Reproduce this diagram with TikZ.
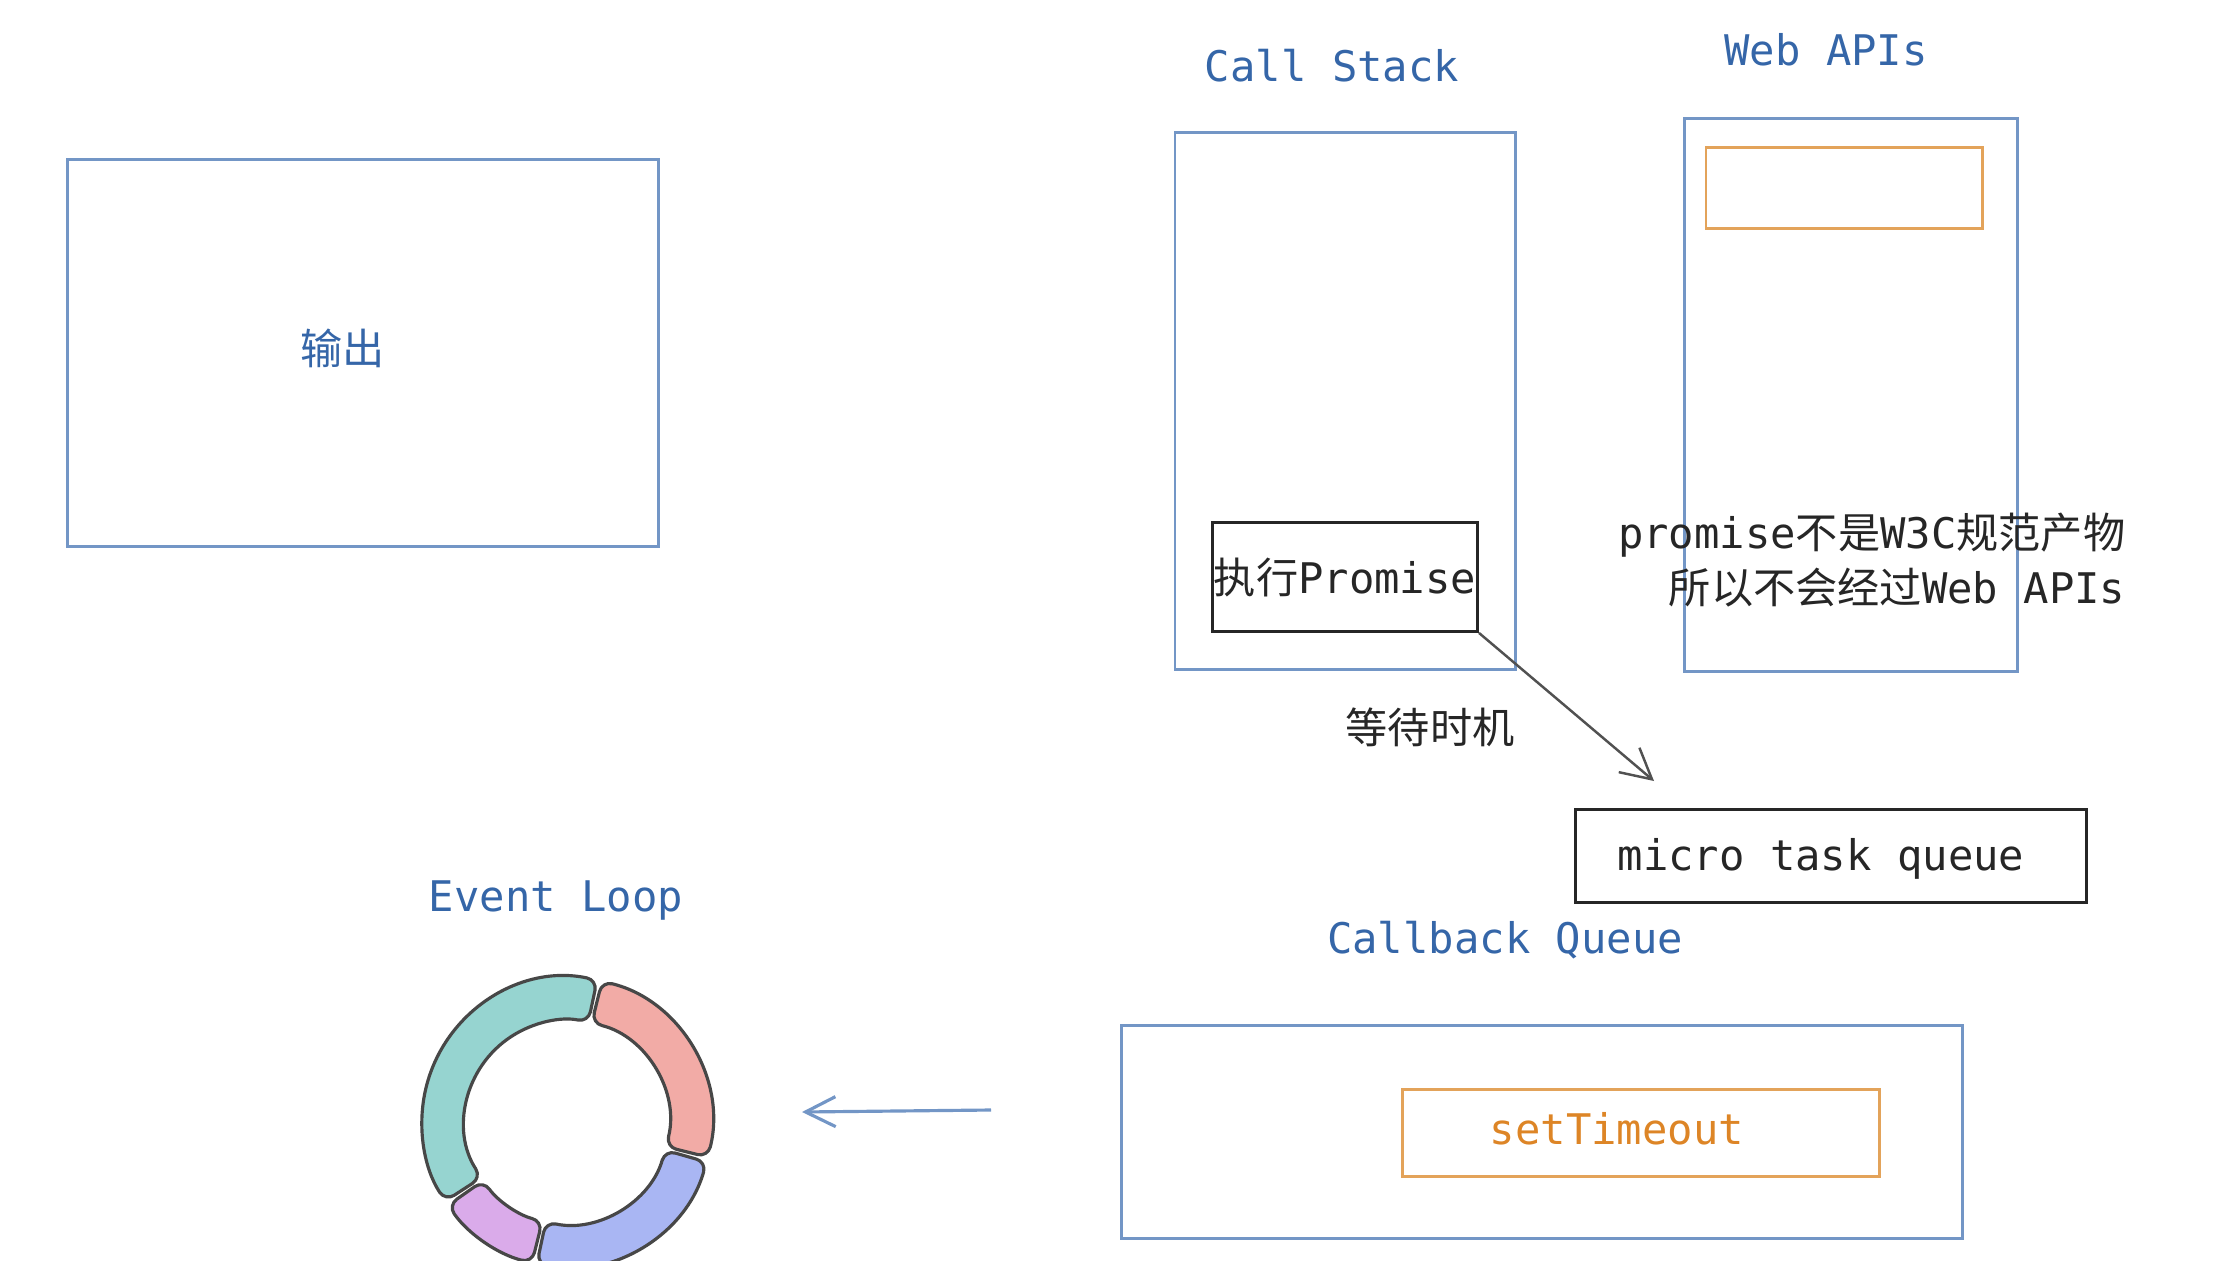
\documentclass[tikz,border=0pt]{standalone}
\usepackage{fontspec}
\usepackage{tikz}
\usetikzlibrary{arrows.meta}
\setmonofont{DejaVu Sans Mono}
\newfontfamily\cjk{Noto Sans CJK SC}
\newcommand{\zh}[1]{{\cjk #1}}
\definecolor{titleblue}{HTML}{3566A8}
\definecolor{boxblue}{HTML}{7396C6}
\definecolor{tboxorange}{HTML}{E3A35A}
\definecolor{textorange}{HTML}{DD8526}
\definecolor{inkgray}{HTML}{262626}
\definecolor{ringline}{HTML}{474747}
\definecolor{ringteal}{HTML}{96D4D0}
\definecolor{ringred}{HTML}{F2ABA6}
\definecolor{ringpurple}{HTML}{DAABEA}
\definecolor{ringblue}{HTML}{A9B6F3}

\begin{document}
\begin{tikzpicture}[x=0.01cm, y=-0.01cm,
   every node/.style={font=\ttfamily\fontsize{12pt}{15.6pt}\selectfont, inner sep=0pt},
   every label/.style={font=\ttfamily\fontsize{12pt}{15.6pt}\selectfont, inner sep=0pt},
   title/.style={text=titleblue},
   bluebox/.style={draw=boxblue, line width=0.8pt},
   orangebox/.style={draw=tboxorange, line width=0.8pt},
   blackbox/.style={draw=inkgray, line width=0.8pt},
   segment/.style={draw=ringline, line width=0.9pt, rounded corners=3pt, line join=round}]
   \clip (0,0) rectangle (2236,1260);

   % output area
   \node[bluebox, minimum width=5.9cm, minimum height=3.87cm,
      label={[text=titleblue, xshift=-0.2cm, yshift=0.05cm]center:\zh{输出}}](output) at (363,353) {};

   % call stack
   \node[title](csTitle) at (1332,66) {Call Stack};
   \node[bluebox, minimum width=3.4cm, minimum height=5.36cm](callstack) at (1345,401) {};
   \node[blackbox, minimum width=2.65cm, minimum height=1.09cm, text=inkgray](exec) at (1345,577) {\zh{执行}Promise};

   % web apis
   \node[title](webTitle) at (1826,50) {Web APIs};
   \node[bluebox, minimum width=3.33cm, minimum height=5.53cm](webapis) at (1851,395) {};
   \node[orangebox, minimum width=2.76cm, minimum height=0.81cm](webtask) at (1844,188) {};
   \node[anchor=east, align=right, text=inkgray](note) at (2126,560) {promise\zh{不是}W3C\zh{规范产物}\\\zh{所以不会经过}Web APIs};

   % micro task queue
   \node[text=inkgray](wait) at (1430,727) {\zh{等待时机}};
   \node[blackbox, minimum width=5.1cm, minimum height=0.93cm,
      label={[text=inkgray, xshift=-0.1cm, yshift=-0.03cm]center:micro task queue}](micro) at (1831,856) {};
   \coordinate(microIn) at (1654,781);

   % callback queue
   \node[title](cbTitle) at (1505,940) {Callback Queue};
   \node[bluebox, minimum width=8.41cm, minimum height=2.13cm](callback) at (1542,1132) {};
   \node[orangebox, minimum width=4.77cm, minimum height=0.87cm,
      label={[text=textorange, xshift=-0.24cm, yshift=0.04cm]center:setTimeout}](timeout) at (1641,1133) {};

   % event loop
   \node[title](elTitle) at (556,900) {Event Loop};
   \coordinate(cbOut) at (991,1110);
   \coordinate(loopIn) at (802,1112);
   \begin{scope}[shift={(567,1122)}]
      \draw[segment, fill=ringteal] (78:1.45cm) arc[start angle=78, end angle=213, radius=1.45cm]
         -- (213:1.02cm) arc[start angle=213, end angle=78, radius=1.02cm] -- cycle;
      \draw[segment, fill=ringpurple] (215:1.45cm) arc[start angle=215, end angle=256, radius=1.45cm]
         -- (256:1.02cm) arc[start angle=256, end angle=215, radius=1.02cm] -- cycle;
      \draw[segment, fill=ringblue] (258:1.45cm) arc[start angle=258, end angle=344, radius=1.45cm]
         -- (344:1.02cm) arc[start angle=344, end angle=258, radius=1.02cm] -- cycle;
      \draw[segment, fill=ringred] (-14:1.45cm) arc[start angle=-14, end angle=76, radius=1.45cm]
         -- (76:1.02cm) arc[start angle=76, end angle=-14, radius=1.02cm] -- cycle;
   \end{scope}

   \draw[-{Straight Barb[length=0.3cm, width=0.32cm]}, draw=inkgray!80, line width=0.7pt](exec.south east) to (microIn);
   \draw[-{Straight Barb[length=0.3cm, width=0.3cm]}, draw=boxblue, line width=0.9pt](cbOut) to (loopIn);

\end{tikzpicture}
\end{document}
